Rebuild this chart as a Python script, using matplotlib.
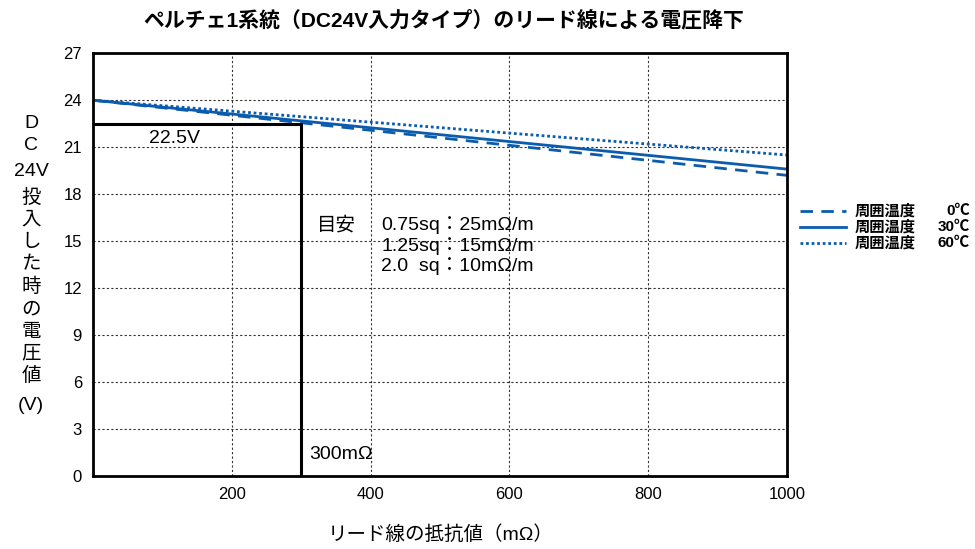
import matplotlib
matplotlib.use("Agg")
import matplotlib.pyplot as plt
from matplotlib.lines import Line2D

plt.rcParams['font.family'] = ['Liberation Sans', 'Noto Sans CJK JP', 'DejaVu Sans']

resistance = [0, 200, 400, 600, 800, 1000]
v_0c = [24.0, 23.04, 22.08, 21.12, 20.16, 19.2]
v_30c = [24.0, 23.12, 22.24, 21.36, 20.48, 19.6]
v_60c = [24.0, 23.3, 22.6, 21.9, 21.2, 20.5]
series_labels = ["周囲温度", "周囲温度", "周囲温度"]
temp_labels = ["0℃", "30℃", "60℃"]
yticks = [0, 3, 6, 9, 12, 15, 18, 21, 24, 27]
xticks = [200, 400, 600, 800, 1000]
limit_r = 300
limit_v = 22.5

blue = "#0b5cad"
fig = plt.figure(figsize=(9.75, 5.49), dpi=100)
ax = fig.add_axes([0.0954, 0.133, 0.7118, 0.770])

ax.plot(resistance, v_0c, color=blue, lw=2.0, ls=(0, (4.5, 3)))
ax.plot(resistance, v_30c, color=blue, lw=2.0, ls='-')
ax.plot(resistance, v_60c, color=blue, lw=2.0, ls=(0, (1, 1)))

ax.plot([0, limit_r, limit_r], [limit_v, limit_v, 0], color='black', lw=2.2)

ax.set_xlim(0, 1000)
ax.set_ylim(0, 27)
ax.set_xticks(xticks)
ax.set_yticks(yticks)
ax.tick_params(length=0, labelsize=12, pad=8)
ax.grid(True, color='#333333', ls=(0, (2, 2)), lw=0.8)
for s in ax.spines.values():
    s.set_linewidth(2.0)

fs = 14
ax.text(117, 21.55, "22.5V", fontsize=fs, ha='center', va='center')
ax.text(311, 1.35, "300mΩ", fontsize=fs, ha='left', va='center')
ax.text(323, 16.0, "目安", fontsize=fs, ha='left', va='center')
ax.text(415, 16.0, "0.75sq：25mΩ/m", fontsize=fs, ha='left', va='center')
ax.text(415, 14.7, "1.25sq：15mΩ/m", fontsize=fs, ha='left', va='center')
ax.text(415, 13.4, "2.0  sq：10mΩ/m", fontsize=fs, ha='left', va='center')

fig.text(0.455, 0.963, "ペルチェ1系統（DC24V入力タイプ）のリード線による電圧降下",
         fontsize=15, fontweight='bold', ha='center', va='center')
fig.text(0.452, 0.026, "リード線の抵抗値（mΩ）", fontsize=14, ha='center', va='center')

ylab = ["D", "C", "24V", "投", "入", "し", "た", "時", "の", "電", "圧", "値"]
ypos = [123, 145, 172, 198, 220, 243, 265, 287, 310, 332, 354, 376]
for t, p in zip(ylab, ypos):
    fig.text(31 / 975, 1 - p / 549, t, fontsize=14, ha='center', va='center')
fig.text(31 / 975, 1 - 405 / 549, "(V)", fontsize=14, ha='center', va='center')

styles = [(0, (4.5, 3)), '-', (0, (1, 1))]
rows = [211, 227, 243]
for st, r, lab, tl in zip(styles, rows, series_labels, temp_labels):
    yy = 1 - r / 549
    fig.add_artist(Line2D([800 / 975, 846 / 975], [yy, yy], color=blue, lw=2.0, ls=st,
                          transform=fig.transFigure))
    fig.text(855 / 975, yy, lab, fontsize=11, fontweight='bold', ha='left', va='center')
    fig.text(970 / 975, yy, tl, fontsize=11, fontweight='bold', ha='right', va='center')

fig.savefig("out.png", dpi=100)
